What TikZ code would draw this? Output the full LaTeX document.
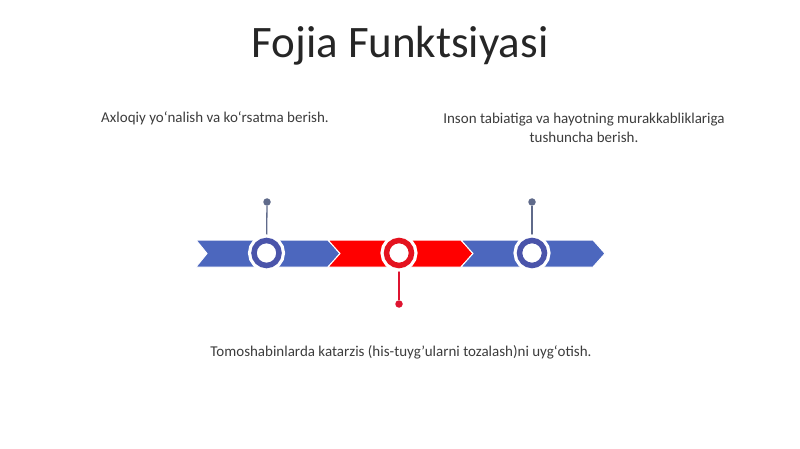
\documentclass[tikz,border=0pt]{standalone}
\usepackage{fontspec}
\setmainfont{Carlito}
\usepackage{tikz}

\definecolor{bandblue}{RGB}{76,103,190}
\definecolor{ringblue}{RGB}{74,84,170}
\definecolor{pinblue}{RGB}{95,106,138}
\definecolor{bandred}{RGB}{255,0,0}
\definecolor{ringred}{RGB}{228,18,30}
\definecolor{pinred}{RGB}{222,20,48}
\definecolor{titlegray}{RGB}{38,38,38}

\tikzset{
  ring/.style={circle,minimum size=25pt,inner sep=0pt,line width=5.5pt,fill=white,
    preaction={draw=white,line width=12pt}},
  pindot/.style={circle,minimum size=7.5pt,inner sep=0pt},
  band/.style={draw=white,line width=1pt},
  caption/.style={font=\fontsize{15}{19}\selectfont,text=titlegray!90}
}

\begin{document}
\begin{tikzpicture}[x=1pt,y=-1pt]
\useasboundingbox (0,0) rectangle (800,449);
%Заголовок
\node[font=\fontsize{45}{50}\selectfont,text=titlegray] (title) at (400,46) {Fojia Funktsiyasi};
%Стрелки шкалы
\filldraw[band,fill=bandblue] (196,240)--(328,240)--(340,253.5)--(328,267)--(196,267)--(207,253.5)--cycle;
\filldraw[band,fill=bandred] (328,240)--(461,240)--(473,253.5)--(461,267)--(328,267)--(340,253.5)--cycle;
\filldraw[band,fill=bandblue] (461,240)--(593,240)--(605,253.5)--(593,267)--(461,267)--(473,253.5)--cycle;
%Точки выносок
\node[pindot,fill=pinblue] (p1) at (267,202) {};
\node[pindot,fill=pinred] (p2) at (399,304) {};
\node[pindot,fill=pinblue] (p3) at (532,202) {};
%Выноски
\coordinate (m1) at (266.5,253);
\coordinate (m2) at (399,253);
\coordinate (m3) at (532,253);
\draw[pinblue,line width=1.3pt] (p1) -- (m1);
\draw[pinred,line width=1.3pt] (p2) -- (m2);
\draw[pinblue,line width=1.3pt] (p3) -- (m3);
%Кольца
\node[ring,draw=ringblue] (c1) at (m1) {};
\node[ring,draw=ringred] (c2) at (m2) {};
\node[ring,draw=ringblue] (c3) at (m3) {};
%Подписи
\node[caption] (t1) at (215,118) {Axloqiy yoʻnalish va koʻrsatma berish.};
\node[caption,align=center] (t3) at (584,127.5) {Inson tabiatiga va hayotning murakkabliklariga\\tushuncha berish.};
\node[caption] (t2) at (401,352) {Tomoshabinlarda katarzis (his-tuyg'ularni tozalash)ni uygʻotish.};
\end{tikzpicture}
\end{document}
